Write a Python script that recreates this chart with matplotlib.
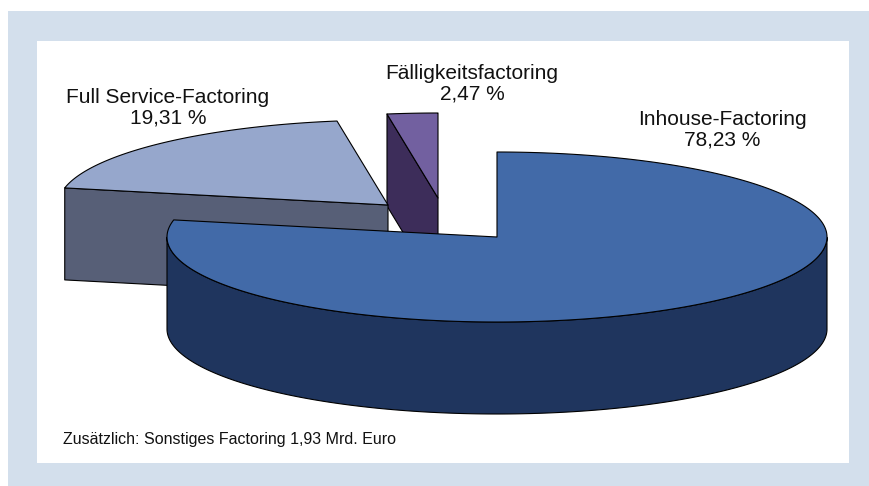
import numpy as np
import matplotlib.pyplot as plt
from matplotlib.patches import Polygon, Rectangle

# data
categories = ['Inhouse-Factoring', 'Full Service-Factoring', 'Fälligkeitsfactoring']
shares = [78.23, 19.31, 2.47]
note = 'Zusätzlich: Sonstiges Factoring 1,93 Mrd. Euro'

# style
top_colors = ['#426aa8', '#96a7cc', '#7260a0']
side_colors = ['#1f355e', '#575f77', '#3d2d5a']
explode_px = [(0, 0), (-109, -32), (-59, -39)]
label_pos = [(722, 130), (168, 108), (472, 84)]

W, H = 869, 486
cx, cy = 497, 237        # pie centre (pixels)
ra, rb = 330, 85         # ellipse half axes
depth = 92               # slab thickness

plt.rcParams['font.family'] = ['Liberation Sans', 'DejaVu Sans']

fig = plt.figure(figsize=(W / 100, H / 100), dpi=100)
ax = fig.add_axes([0, 0, 1, 1])
ax.set_xlim(0, W)
ax.set_ylim(H, 0)
ax.axis('off')

# frame
ax.add_patch(Rectangle((8, 11), W - 8, H - 11, facecolor='#d3dfec', edgecolor='none'))
ax.add_patch(Rectangle((37, 41), 849 - 37, 463 - 41, facecolor='white', edgecolor='none'))


def pt(t, dx, dy, z=0):
    return (cx + dx + ra * np.cos(t), cy + dy - rb * np.sin(t) + z)


def face(pts, color):
    ax.add_patch(Polygon(pts, closed=True, facecolor=color, edgecolor='black',
                         lw=0.8, joinstyle='round'))


total = sum(shares)
cum = np.concatenate([[0], np.cumsum(shares)])
slices = []
for i in range(len(shares)):
    t2 = np.radians(90 - 360 * cum[i] / total)
    t1 = np.radians(90 - 360 * cum[i + 1] / total)
    slices.append((i, t1, t2))

# back slices first
for i, t1, t2 in sorted(slices, key=lambda s: explode_px[s[0]][1]):
    dx, dy = explode_px[i]
    apex = (cx + dx, cy + dy)
    apex_b = (cx + dx, cy + dy + depth)
    # radial cut faces
    if np.cos(t2) < -1e-6:
        face([apex, pt(t2, dx, dy), pt(t2, dx, dy, depth), apex_b], side_colors[i])
    if np.cos(t1) > 1e-6:
        face([apex, pt(t1, dx, dy), pt(t1, dx, dy, depth), apex_b], side_colors[i])
    # outer rim, front part only
    ts = np.linspace(t1, t2, 600)
    front = np.sin(ts) < 0
    runs = []
    cur = []
    for t, f in zip(ts, front):
        if f:
            cur.append(t)
        elif cur:
            runs.append(cur)
            cur = []
    if cur:
        runs.append(cur)
    for run in runs:
        run = np.array(run)
        upper = [pt(t, dx, dy) for t in run]
        lower = [pt(t, dx, dy, depth) for t in run[::-1]]
        face(upper + lower, side_colors[i])
    # top face
    face([apex] + [pt(t, dx, dy) for t in ts], top_colors[i])

for i, name in enumerate(categories):
    pct = f'{shares[i]:.2f}'.replace('.', ',') + ' %'
    x, y = label_pos[i]
    ax.text(x, y, name + '\n' + pct, ha='center', va='center',
            multialignment='center', fontsize=15, linespacing=1.13, color='#111111')

ax.text(63, 439, note, ha='left', va='center', fontsize=11.5, color='#111111')

fig.savefig('out.png', dpi=100)
